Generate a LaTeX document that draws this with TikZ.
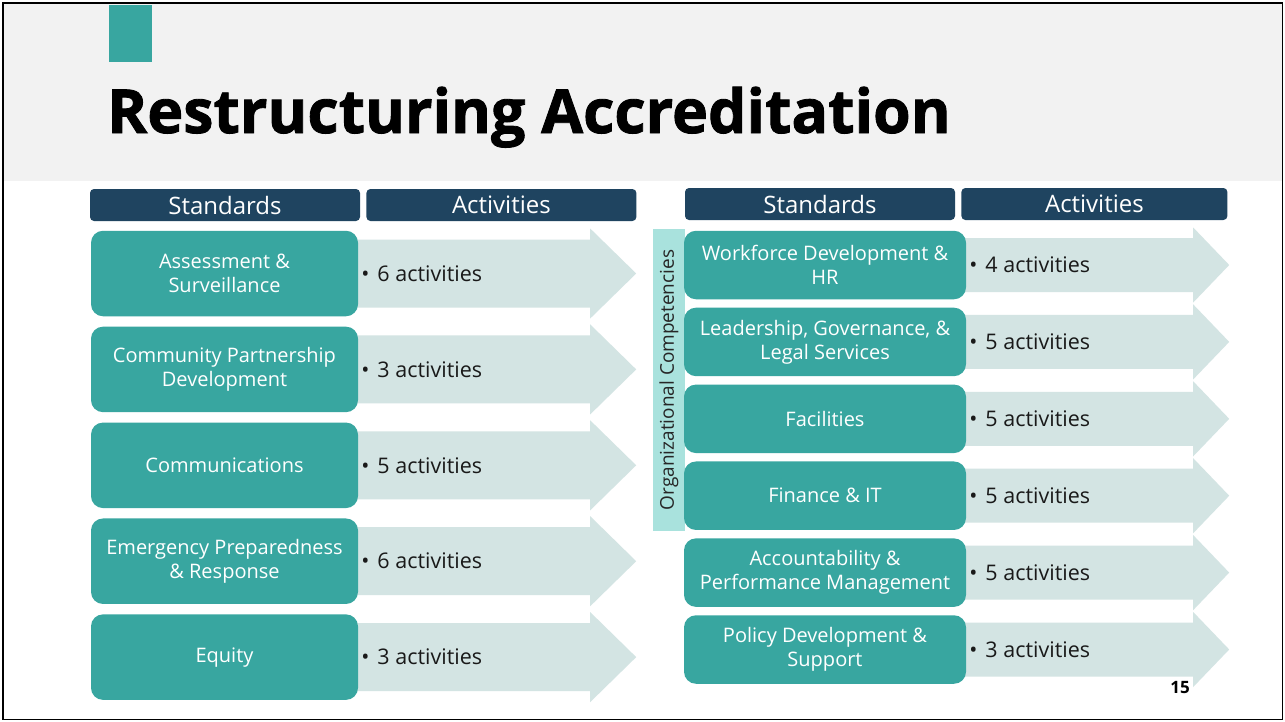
\documentclass[tikz,border=0pt]{standalone}
\usepackage{fontspec}
\setmainfont{Open Sans}
\newfontfamily\titlefont[BoldFeatures={FakeBold=1.4}]{Open Sans}
\usetikzlibrary{positioning,calc,backgrounds}
\definecolor{tealbox}{HTML}{38A6A0}
\definecolor{navyhead}{HTML}{1F4460}
\definecolor{arrowfill}{HTML}{D3E4E3}
\definecolor{orgbar}{HTML}{A9E2DD}
\definecolor{titlebg}{HTML}{F2F2F2}
\newcommand{\actarrow}[5]{\fill[arrowfill, shift={(#1.east)}] (-20,-#4) -- (#2,-#4) -- (#2,-#5) -- (#3,0) -- (#2,#5) -- (#2,#4) -- (-20,#4) -- cycle;}

\begin{document}
\begin{tikzpicture}[x=1pt, y=-1pt,
  every node/.style={inner sep=0pt},
  headbox/.style={fill=navyhead, rounded corners=4pt, text=white, minimum width=270pt, minimum height=32pt, font=\fontsize{24}{28}\selectfont},
  stdleft/.style={fill=tealbox, rounded corners=12pt, text=white, align=center, minimum width=267pt, minimum height=85.5pt, font=\fontsize{20}{24}\selectfont},
  stdright/.style={stdleft, minimum width=282pt, minimum height=68.5pt},
  acttext/.style={font=\fontsize{21.5}{24}\selectfont, text=black!90}]
\useasboundingbox (0,0) rectangle (1285,721);
\fill[tealbox] (109,5) rectangle (152,62);
\node[anchor=base west, font=\fontsize{60.8}{70}\selectfont\titlefont\bfseries] (title) at (107,133) {Restructuring Accreditation};

\node[headbox] (stdL) at (225,205) {Standards};
\node[headbox, right=6pt of stdL] (actL) {Activities};
\node[headbox] (stdR) at (820,204) {Standards};
\node[headbox, right=6pt of stdR, minimum width=266pt] (actR) {Activities};

\node[stdleft] (assess) at (224.5,273.5) {Assessment \&\\Surveillance};
\node[stdleft, below=10pt of assess] (community) {Community Partnership\\Development};
\node[stdleft, below=10pt of community] (comms) {Communications};
\node[stdleft, below=10pt of comms] (emergency) {Emergency Preparedness\\\& Response};
\node[stdleft, below=10pt of emergency] (equity) {Equity};

\node[fill=orgbar, rotate=90, minimum width=302pt, minimum height=32pt, font=\fontsize{19}{20}\selectfont, text=black!85] (orgcomp) at (669,380) {Organizational Competencies};

\node[stdright] (workforce) at (825,265) {Workforce Development \&\\HR};
\node[stdright, below=8pt of workforce] (leadership) {Leadership, Governance, \&\\Legal Services};
\node[stdright, below=8pt of leadership] (facilities) {Facilities};
\node[stdright, below=8pt of facilities] (finance) {Finance \& IT};
\node[stdright, below=8pt of finance] (account) {Accountability \&\\Performance Management};
\node[stdright, below=8pt of account] (policy) {Policy Development \&\\Support};

\node[acttext, right=3pt of assess] (assessact) {\textbullet\hspace{8pt}6 activities};
\node[acttext, right=3pt of community] (communityact) {\textbullet\hspace{8pt}3 activities};
\node[acttext, right=3pt of comms] (commsact) {\textbullet\hspace{8pt}5 activities};
\node[acttext, right=3pt of emergency] (emergencyact) {\textbullet\hspace{8pt}6 activities};
\node[acttext, right=3pt of equity] (equityact) {\textbullet\hspace{8pt}3 activities};
\node[acttext, right=3pt of workforce] (workforceact) {\textbullet\hspace{8pt}4 activities};
\node[acttext, right=3pt of leadership] (leadershipact) {\textbullet\hspace{8pt}5 activities};
\node[acttext, right=3pt of facilities] (facilitiesact) {\textbullet\hspace{8pt}5 activities};
\node[acttext, right=3pt of finance] (financeact) {\textbullet\hspace{8pt}5 activities};
\node[acttext, right=3pt of account] (accountact) {\textbullet\hspace{8pt}5 activities};
\node[acttext, right=3pt of policy] (policyact) {\textbullet\hspace{8pt}3 activities};

\node[anchor=base east, font=\fontsize{17}{20}\selectfont\bfseries] (pagenum) at (1190,693) {15};

\begin{scope}[on background layer]
\fill[white] (0,0) rectangle (1285,721);
\fill[titlebg] (3,4) rectangle (1282,181);
\actarrow{assess}{232}{278}{34}{45}
\actarrow{community}{232}{278}{34}{45}
\actarrow{comms}{232}{278}{34}{45}
\actarrow{emergency}{232}{278}{34}{45}
\actarrow{equity}{232}{278}{34}{45}
\actarrow{workforce}{227}{263}{27}{37.5}
\actarrow{leadership}{227}{263}{27}{37.5}
\actarrow{facilities}{227}{263}{27}{37.5}
\actarrow{finance}{227}{263}{27}{37.5}
\actarrow{account}{227}{263}{27}{37.5}
\actarrow{policy}{227}{263}{27}{37.5}
\end{scope}

\draw[line width=1.5pt] (2.75,3) rectangle (1282.5,719.5);
\end{tikzpicture}
\end{document}
